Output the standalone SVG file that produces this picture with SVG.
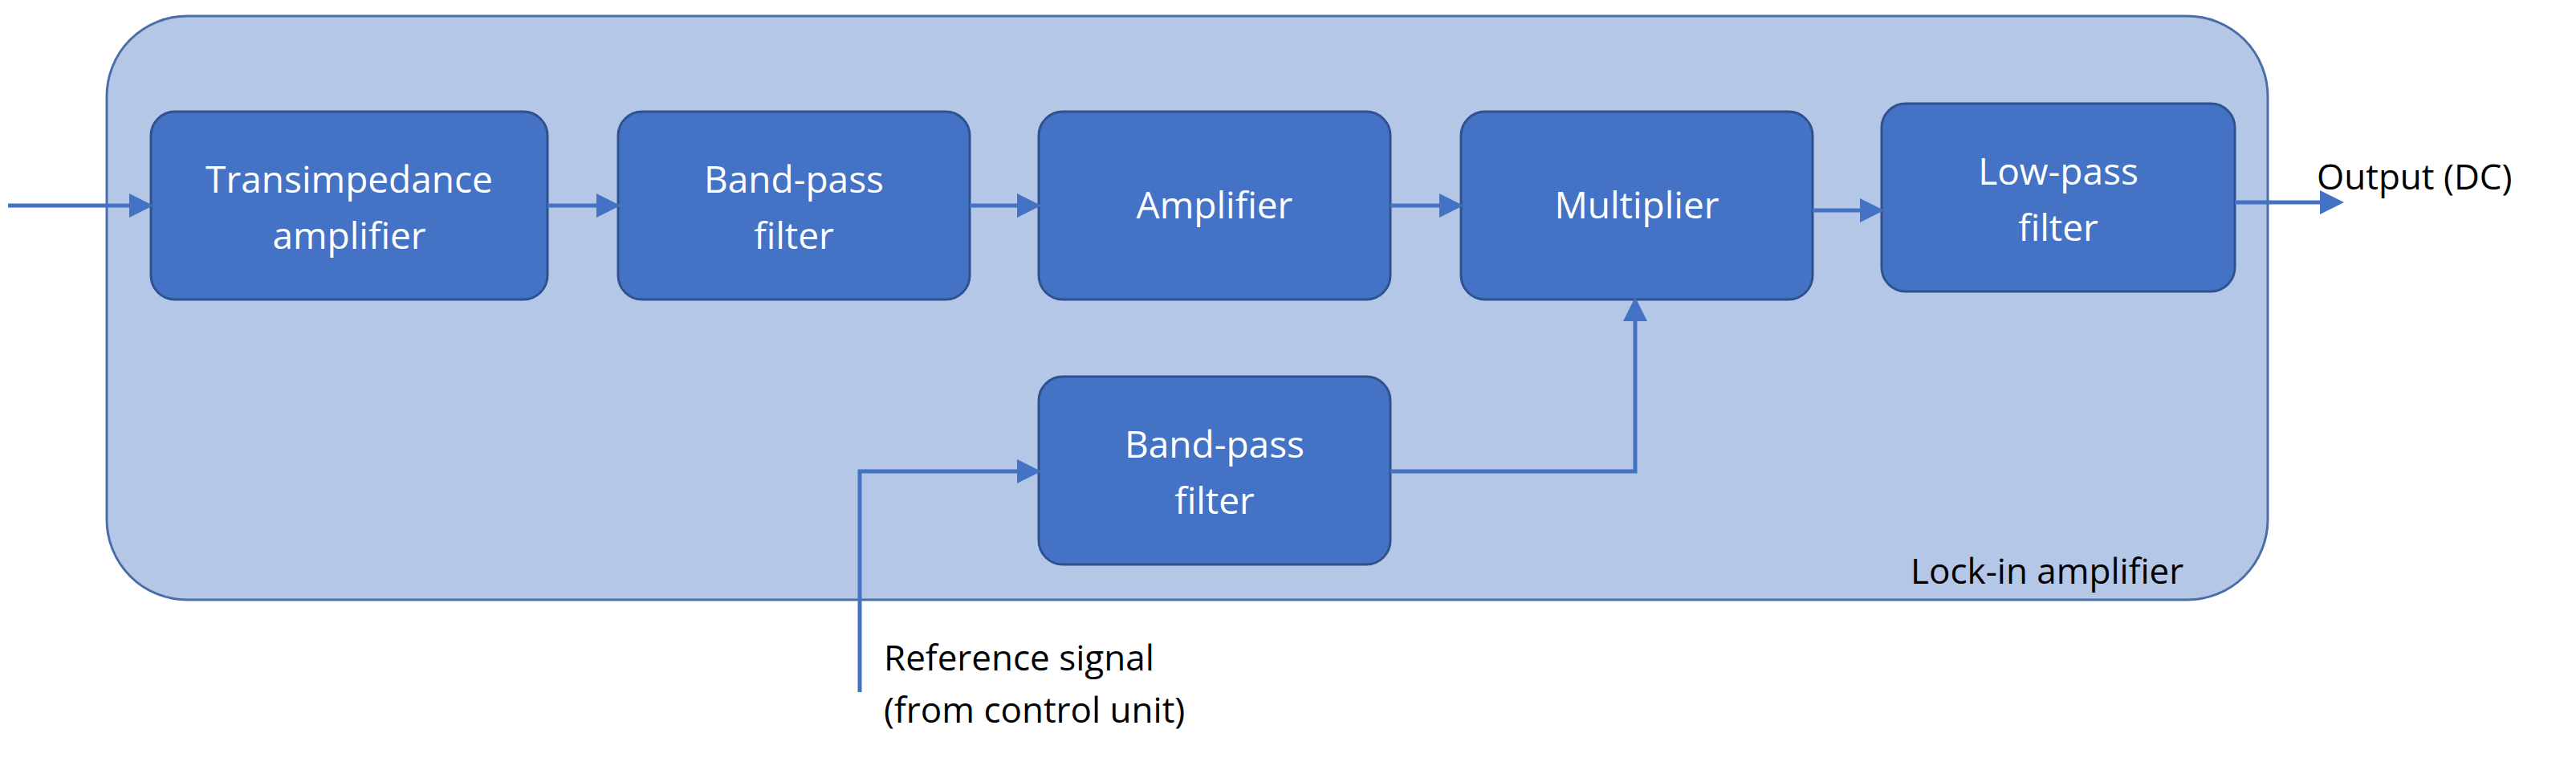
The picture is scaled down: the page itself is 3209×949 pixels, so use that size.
<svg xmlns="http://www.w3.org/2000/svg" width="3209" height="949" viewBox="0 0 3209 949">
<defs>
<style>
.b{fill:#4472c4;stroke:#2f528f;stroke-width:3}
.t{font-family:"Open Sans","Liberation Sans",sans-serif;font-size:46px;fill:#fff;text-anchor:middle}
.k{font-family:"Open Sans","Liberation Sans",sans-serif;font-size:44px;fill:#000}
.c{fill:none;stroke:#4472c4;stroke-width:5}
</style>
<marker id="a" markerWidth="6" markerHeight="6" refX="5" refY="3" orient="auto" markerUnits="strokeWidth"><path d="M0,0L6,3L0,6z" fill="#4472c4"/></marker>
</defs>
<rect width="3209" height="949" fill="#fff"/>
<g id="lockin"><rect x="133" y="20" width="2692" height="727" rx="100" fill="#b4c7e7" stroke="#4a6fa8" stroke-width="3"/>
<text class="k" x="2380" y="727">Lock-in amplifier</text></g>
<g id="n1"><rect class="b" x="188" y="139" width="494" height="234" rx="30"/><text class="t" x="435" y="240">Transimpedance</text><text class="t" x="435" y="310">amplifier</text></g>
<g id="n2"><rect class="b" x="770" y="139" width="438" height="234" rx="30"/><text class="t" x="989" y="240">Band-pass</text><text class="t" x="989" y="310">filter</text></g>
<g id="n3"><rect class="b" x="1294" y="139" width="438" height="234" rx="30"/><text class="t" x="1513" y="272">Amplifier</text></g>
<g id="n4"><rect class="b" x="1820" y="139" width="438" height="234" rx="30"/><text class="t" x="2039" y="272">Multiplier</text></g>
<g id="n5"><rect class="b" x="2344" y="129" width="440" height="234" rx="30"/><text class="t" x="2564" y="230">Low-pass</text><text class="t" x="2564" y="300">filter</text></g>
<g id="n6"><rect class="b" x="1294" y="469" width="438" height="234" rx="30"/><text class="t" x="1513" y="570">Band-pass</text><text class="t" x="1513" y="640">filter</text></g>
<g id="labels"><text class="k" x="2886" y="236">Output (DC)</text><text class="k" x="1101" y="835">Reference signal</text><text class="k" x="1101" y="900">(from control unit)</text></g>
<g id="connectors">
<path class="c" d="M10,256H186" marker-end="url(#a)"/>
<path class="c" d="M682,256H768" marker-end="url(#a)"/>
<path class="c" d="M1208,256H1292" marker-end="url(#a)"/>
<path class="c" d="M1732,256H1818" marker-end="url(#a)"/>
<path class="c" d="M2258,262H2342" marker-end="url(#a)"/>
<path class="c" d="M2784,252H2915" marker-end="url(#a)"/>
<path class="c" d="M1071,862V587H1292" marker-end="url(#a)"/>
<path class="c" d="M1732,587H2037V375" marker-end="url(#a)"/>
</g>
</svg>
